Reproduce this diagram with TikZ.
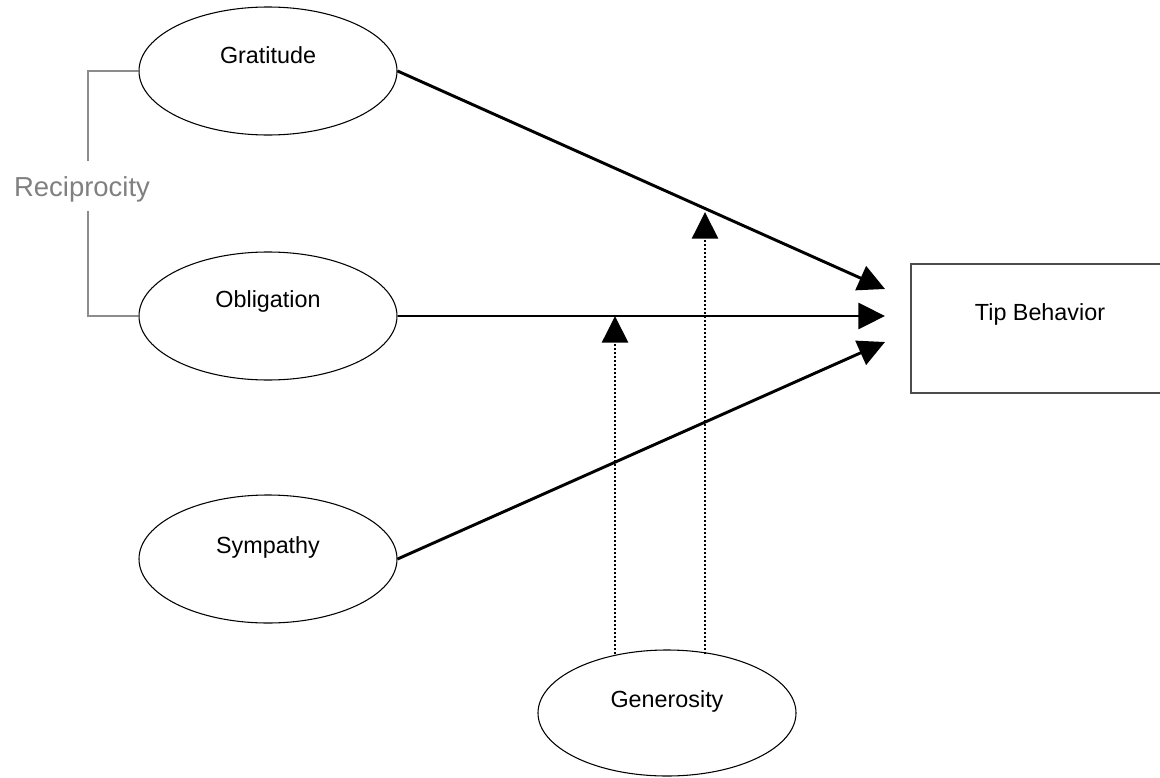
\documentclass[tikz,border=0pt]{standalone}
\usepackage{fontspec}
\setmainfont{Liberation Sans}
\usetikzlibrary{arrows.meta,shapes.geometric}
\begin{document}
\begin{tikzpicture}[x=0.75pt,y=-0.75pt,
  oval/.style={draw=black, line width=0.8pt, ellipse, minimum width=193.5pt, minimum height=96pt, inner sep=0pt},
  lbl/.style={anchor=base, font=\fontsize{17.5}{20}\selectfont, inner sep=0pt},
  effect/.style={line width=2.2pt, -{Triangle[length=20pt,width=19.5pt]}},
  modarrow/.style={line width=2pt, dash pattern=on 1.5pt off 1.5pt, -{Triangle[length=20pt,width=19.5pt]}},
  brk/.style={draw=black!45, line width=1.5pt}]
\useasboundingbox (0,0) rectangle (1160,778);
% ellipses
\node[oval] (g) at (268,71) {};
\node[oval] (o) at (268,316) {};
\node[oval] (s) at (268,559) {};
\node[oval, minimum height=94.5pt] (gen) at (667,713) {};
\node[draw=black!70, line width=1.3pt, minimum width=193.5pt, minimum height=96.75pt, inner sep=0pt] (tip) at (1040,328.5) {};
% labels
\node[lbl] (gt) at (268,63) {Gratitude};
\node[lbl] (ot) at (268,307) {Obligation};
\node[lbl] (st) at (268,553) {Sympathy};
\node[lbl] (gent) at (667,707) {Generosity};
\node[lbl] (tipt) at (1040,320) {Tip Behavior};
\node[anchor=base, inner sep=0pt, text=black!50, font=\fontsize{20.6}{24}\selectfont] (rec) at (82,196) {Reciprocity};
% bracket
\coordinate (c1) at (88,161);
\coordinate (c2) at (88,211);
\draw[brk] (g.west) -| (c1);
\draw[brk] (c2) |- (o.west);
% effect arrows
\coordinate (e1) at (885,289);
\coordinate (e2) at (885,316);
\coordinate (e3) at (885,342);
\draw[effect] (g.east) -- (e1);
\draw[effect] (o.east) -- (e2);
\draw[effect] (s.east) -- (e3);
% moderator arrows
\coordinate (m1s) at (615,654);
\coordinate (m1e) at (615,316);
\coordinate (m2s) at (705,654);
\coordinate (m2e) at (705,212);
\draw[modarrow] (m1s) -- (m1e);
\draw[modarrow] (m2s) -- (m2e);
\end{tikzpicture}
\end{document}
